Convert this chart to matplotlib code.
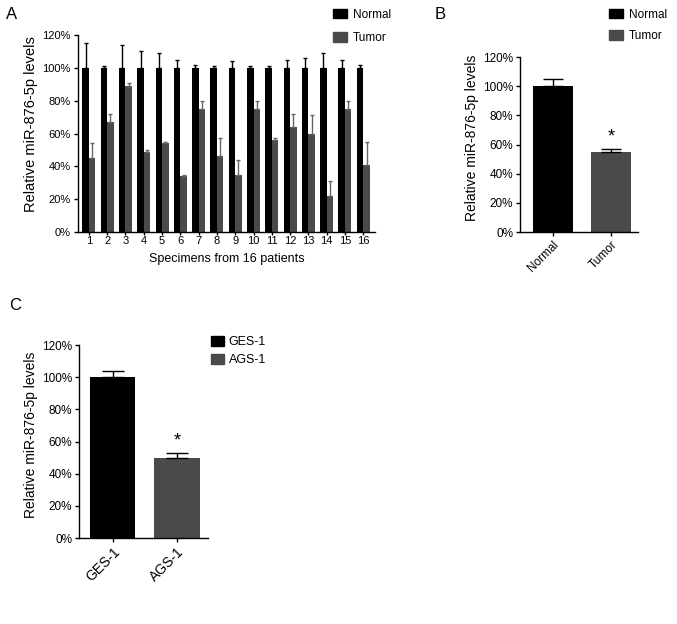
import matplotlib
matplotlib.use('Agg')
import matplotlib.pyplot as plt
from matplotlib.patches import Patch
from matplotlib.ticker import FuncFormatter
import numpy as np

plt.rcParams['font.family'] = ['Liberation Sans', 'DejaVu Sans']

# panel A data
patients = [str(i) for i in range(1, 17)]
normal_a = [100] * 16
normal_a_err = [15, 1, 14, 10, 9, 5, 2, 1, 4, 1, 1, 5, 6, 9, 5, 2]
tumor_a = [45, 67, 89, 49, 54, 34, 75, 46, 35, 75, 56, 64, 60, 22, 75, 41]
tumor_a_err = [9, 5, 2, 1, 1, 1, 5, 11, 9, 5, 1, 8, 11, 9, 5, 14]

# panel B data
groups_b = ['Normal', 'Tumor']
values_b = [100, 55]
errors_b = [5, 2]

# panel C data
groups_c = ['GES-1', 'AGS-1']
values_c = [100, 50]
errors_c = [4, 3]

BLACK = '#000000'
GREY = '#4a4a4a'
ylab = 'Relative miR-876-5p levels'
pct = FuncFormatter(lambda v, p: '{:.0f}%'.format(v))


def style_axes(ax, tick_size):
    ax.spines['top'].set_visible(False)
    ax.spines['right'].set_visible(False)
    ax.spines['left'].set_linewidth(1.0)
    ax.spines['bottom'].set_linewidth(1.0)
    ax.set_ylim(0, 120)
    ax.set_yticks([0, 20, 40, 60, 80, 100, 120])
    ax.yaxis.set_major_formatter(pct)
    ax.tick_params(axis='both', direction='out', length=3, width=1,
                   labelsize=tick_size, pad=2)


fig = plt.figure(figsize=(6.77, 6.24), dpi=100)

# ---------------- panel A
axA = fig.add_axes([0.1148, 0.6282, 0.4391, 0.3157])
x = np.arange(len(patients))
w = 0.355
axA.bar(x - w / 2, normal_a, w, color=BLACK, linewidth=0)
axA.bar(x + w / 2, tumor_a, w, color=GREY, linewidth=0)
axA.errorbar(x - w / 2, normal_a, yerr=[[0] * 16, normal_a_err], fmt='none',
             ecolor=BLACK, elinewidth=1, capsize=1.5, capthick=1)
axA.errorbar(x + w / 2, tumor_a, yerr=[[0] * 16, tumor_a_err], fmt='none',
             ecolor='#666666', elinewidth=1, capsize=1.5, capthick=1)
axA.set_xlim(-0.61, 15.64)
axA.set_xticks(x)
axA.set_xticklabels(patients)
style_axes(axA, 8)
axA.tick_params(axis='x', pad=1, length=2)
axA.set_ylabel(ylab, fontsize=10.5, labelpad=3, y=0.55)
axA.set_xlabel('Specimens from 16 patients', fontsize=9, labelpad=5)
fig.legend(handles=[Patch(color=BLACK, label='Normal'), Patch(color=GREY, label='Tumor')],
           loc='upper left', bbox_to_anchor=(0.492, 0.986), frameon=False,
           fontsize=8.5, handlelength=1.2, handleheight=0.85, handletextpad=0.45,
           labelspacing=0.95, borderpad=0, borderaxespad=0)
fig.text(0.009, 0.976, 'A', fontsize=12, va='center', ha='left')

# ---------------- panel B
axB = fig.add_axes([0.7681, 0.6282, 0.1743, 0.2804])
xb = np.arange(len(groups_b))
axB.bar(xb, values_b, 0.69, color=[BLACK, GREY], linewidth=0)
axB.errorbar(xb, values_b, yerr=[[0, 0], errors_b], fmt='none',
             ecolor=BLACK, elinewidth=1, capsize=7, capthick=1)
axB.set_xlim(-0.569, 1.466)
axB.set_xticks(xb)
axB.set_xticklabels(groups_b, rotation=45, ha='right', rotation_mode='anchor')
style_axes(axB, 8.5)
axB.set_ylabel(ylab, fontsize=10, labelpad=3, y=0.54)
axB.text(1, values_b[1] + errors_b[1] + 2, '*', ha='center', va='bottom', fontsize=13)
fig.legend(handles=[Patch(color=BLACK, label='Normal'), Patch(color=GREY, label='Tumor')],
           loc='upper left', bbox_to_anchor=(0.8996, 0.986), frameon=False,
           fontsize=8.5, handlelength=1.2, handleheight=0.85, handletextpad=0.5,
           labelspacing=0.8, borderpad=0, borderaxespad=0)
fig.text(0.642, 0.976, 'B', fontsize=12, va='center', ha='left')

# ---------------- panel C
axC = fig.add_axes([0.1167, 0.1378, 0.1905, 0.3093])
xc = np.arange(len(groups_c))
axC.bar(xc, values_c, 0.70, color=[BLACK, GREY], linewidth=0)
axC.errorbar(xc, values_c, yerr=[[0, 0], errors_c], fmt='none',
             ecolor=BLACK, elinewidth=1, capsize=8, capthick=1)
axC.set_xlim(-0.52, 1.48)
axC.set_xticks(xc)
axC.set_xticklabels(groups_c, rotation=45, ha='right', rotation_mode='anchor')
style_axes(axC, 8.5)
axC.tick_params(axis='x', labelsize=10)
axC.set_ylabel(ylab, fontsize=10, labelpad=3, y=0.535)
axC.text(1, values_c[1] + errors_c[1] + 2, '*', ha='center', va='bottom', fontsize=13)
fig.legend(handles=[Patch(color=BLACK, label='GES-1'), Patch(color=GREY, label='AGS-1')],
           loc='upper left', bbox_to_anchor=(0.3117, 0.4623), frameon=False,
           fontsize=9, handlelength=1.0, handleheight=0.9, handletextpad=0.4,
           labelspacing=0.45, borderpad=0, borderaxespad=0)
fig.text(0.014, 0.511, 'C', fontsize=12, va='center', ha='left')

fig.savefig('out.png', dpi=100)
